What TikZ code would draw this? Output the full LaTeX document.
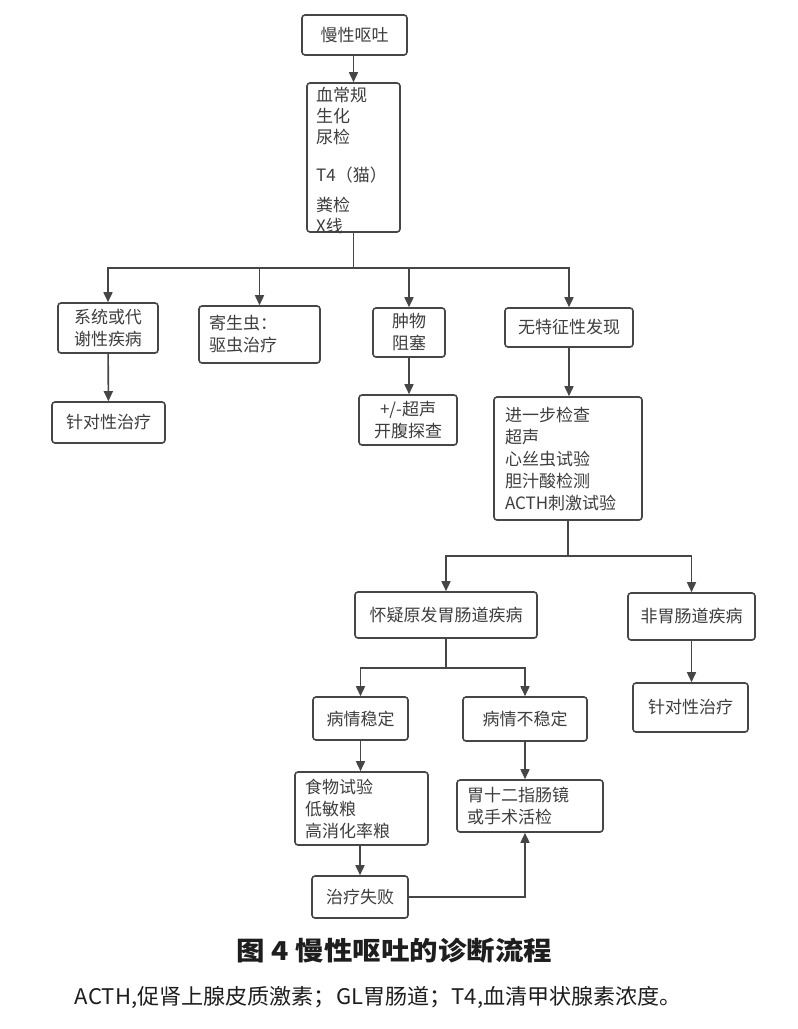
\documentclass[tikz,border=0pt]{standalone}
\usepackage{graphicx}
\usepackage{fontspec}
\newfontfamily\cjk{Noto Sans CJK SC}
\usetikzlibrary{arrows.meta}
\definecolor{lc}{RGB}{70,70,70}
\definecolor{tc}{RGB}{62,62,62}
\definecolor{capc}{RGB}{30,30,30}
\tikzset{
  box/.style={draw=lc, line width=1.6pt, rounded corners=3pt, text=tc,
    font=\fontsize{17}{22}\selectfont\cjk, align=center, inner sep=0pt},
  lbox/.style={box, align=left, inner xsep=10pt},
  txt/.style={inner sep=0pt, text=tc, font=\fontsize{17}{21}\selectfont\cjk, align=left},
  arr/.style={draw=lc, line width=1.6pt, -{Triangle[length=10pt,width=9pt]}},
  ln/.style={draw=lc, line width=1.6pt},
}
\begin{document}
\begin{tikzpicture}[x=1pt,y=-1pt]
\fill[white] (0,0) rectangle (798,1029);
\useasboundingbox (0,0) rectangle (798,1029);

% top
\node[box, minimum width=105pt, minimum height=40pt] (n1) at (354.5,35) {慢性呕吐};
\node[box, minimum width=93pt, minimum height=149pt] (n2) at (353.5,157.5) {};
\node[txt, anchor=north west] (n2t) at (316,86.5) {血常规\\生化\\尿检\\[17pt]T4（猫）\\[9pt]粪检\\X线};

% row 1
\node[box, minimum width=100pt, minimum height=50pt] (a1) at (108,328) {系统或代\\谢性疾病};
\node[lbox, text width=101pt, minimum width=121pt, minimum height=57pt] (a2) at (259.5,334.5) {寄生虫：\\驱虫治疗};
\node[box, minimum width=72pt, minimum height=49pt] (a3) at (409,332.5) {肿物\\阻塞};
\node[box, minimum width=128pt, minimum height=39pt] (a4) at (569,327.5) {无特征性发现};

% row 2
\node[box, minimum width=113pt, minimum height=41pt] (b1) at (108.5,422.5) {针对性治疗};
\node[box, minimum width=98pt, minimum height=50pt] (b3) at (408,420) {+/-超声\\开腹探查};
\node[lbox, text width=126pt, inner xsep=11pt, minimum width=148pt, minimum height=123pt] (b4) at (568,458.5) {进一步检查\\超声\\心丝虫试验\\胆汁酸检测\\ACTH刺激试验};

% row 3
\node[box, minimum width=182pt, minimum height=46pt] (c1) at (446,615) {怀疑原发胃肠道疾病};
\node[box, minimum width=127pt, minimum height=47pt] (c2) at (691.5,616.5) {非胃肠道疾病};

% row 4
\node[box, minimum width=95pt, minimum height=43pt] (d1) at (360.5,718.5) {病情稳定};
\node[box, minimum width=124pt, minimum height=44pt] (d2) at (525,719) {病情不稳定};
\node[box, minimum width=115pt, minimum height=49pt] (d3) at (690.5,707.5) {针对性治疗};

% row 5
\node[lbox, text width=113pt, minimum width=133pt, minimum height=73pt] (e1) at (361.5,808.5) {食物试验\\低敏粮\\高消化率粮};
\node[lbox, text width=126pt, minimum width=146pt, minimum height=52pt] (e2) at (530,806) {胃十二指肠镜\\或手术活检};
\node[box, minimum width=96pt, minimum height=42pt] (f1) at (360,897) {治疗失败};

% connectors
\coordinate (j1) at (353.5,268);
\coordinate (j2) at (568,556);
\coordinate (j3) at (446,668);
\draw[arr] (n1.south -| n2.north) -- (n2.north);
\draw[ln] (n2.south) -- (j1);
\draw[arr] (j1) -| (a1.north);
\draw[arr] (j1) -| (a2.north);
\draw[arr] (j1) -| (a3.north);
\draw[arr] (j1) -| (a4.north);
\draw[arr] (a1) -- (b1);
\draw[arr] (a3.south) -- (a3.south |- b3.north);
\draw[arr] (a4.south) -- (a4.south |- b4.north);
\draw[ln] (b4.south) -- (j2);
\draw[arr] (j2) -| (c1.north);
\draw[arr] (j2) -| (c2.north);
\draw[ln] (c1.south) -- (j3);
\draw[arr] (j3) -| (d1.north);
\draw[arr] (j3) -| (d2.north);
\draw[arr] (c2.south) -- (c2.south |- d3.north);
\draw[arr] (d1.south) -- (d1.south |- e1.north);
\draw[arr] (d2.south) -- (d2.south |- e2.north);
\draw[arr] (e1.south -| f1.north) -- (f1.north);
\draw[arr] (f1.east) -| (d2.south |- e2.south);

% caption
\node[inner sep=0pt, text=capc] (cap) at (394.5,951) {\resizebox{315pt}{\height}{\fontsize{26}{30}\selectfont\cjk\bfseries 图 4 慢性呕吐的诊断流程}};
\node[inner sep=0pt, text=capc] (fn) at (378.5,997) {\resizebox{607pt}{\height}{\fontsize{21.5}{24}\selectfont\cjk ACTH,促肾上腺皮质激素；GL胃肠道；T4,血清甲状腺素浓度。}};
\end{tikzpicture}
\end{document}
